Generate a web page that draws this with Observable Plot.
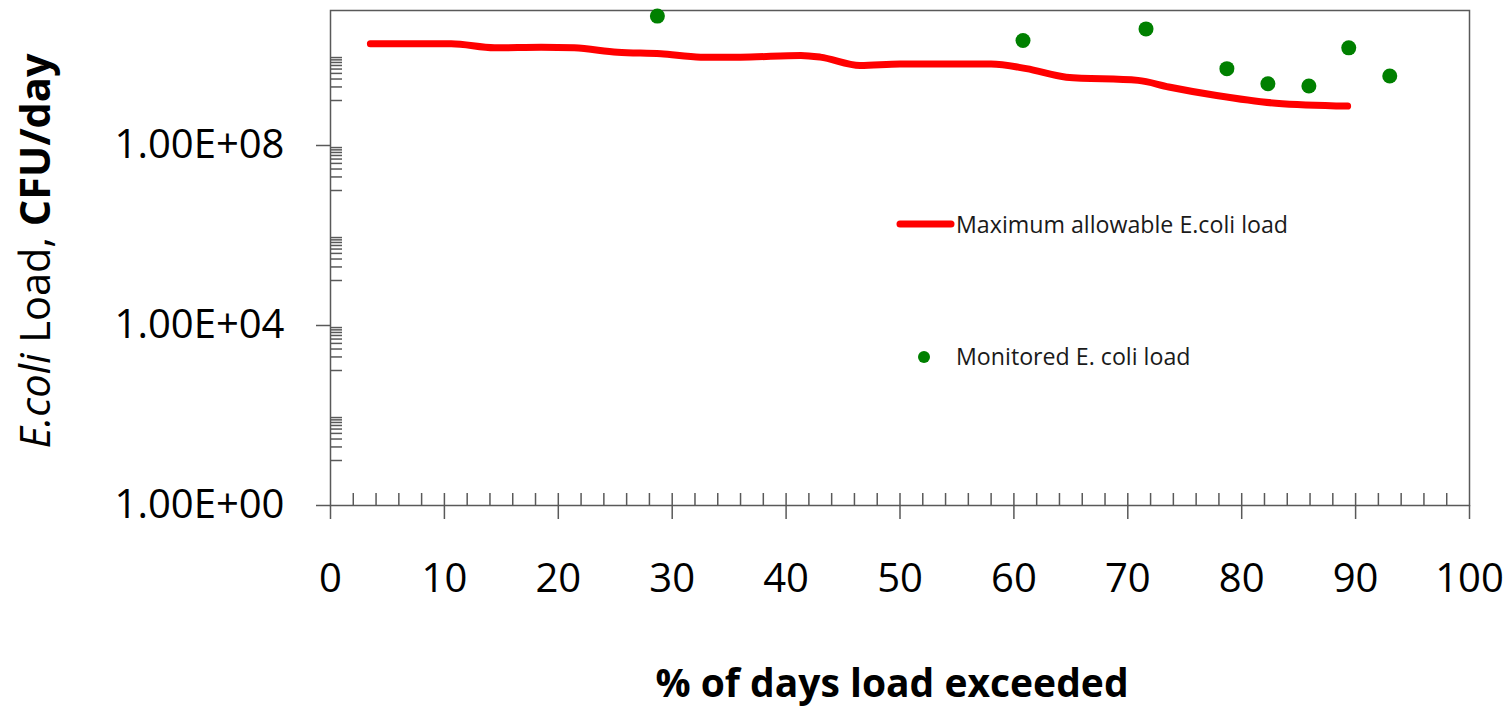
<!DOCTYPE html>
<html>
<head>
<meta charset="utf-8">
<script src="https://cdn.jsdelivr.net/npm/d3@7"></script>
<script src="https://cdn.jsdelivr.net/npm/@observablehq/plot@0.6"></script>
<style>
  html, body { margin: 0; padding: 0; background: #fff; }
  #chart { width: 1511px; height: 712px; overflow: hidden; }
  #chart svg { display: block; }
</style>
</head>
<body>
<div id="chart"></div>
<script>
// Load duration curve: maximum allowable E. coli load (CFU/day) by % of days exceeded
const allowPct  = [3.5, 10.6, 14.4, 18.5, 21.4, 25.2, 29.0, 32.5, 36.0, 41.3, 43.0, 46.5, 50.0, 58.0, 61.1, 64.6, 70.9, 73.6, 77.8, 83.0, 89.3];
const allowLoad = [1.82e10, 1.82e10, 1.48e10, 1.53e10, 1.48e10, 1.18e10, 1.09e10, 9.2e9, 9.2e9, 1.0e10, 9.2e9, 6.0e9, 6.5e9, 6.5e9, 5.1e9, 3.3e9, 2.8e9, 2.0e9, 1.29e9, 8.7e8, 7.5e8];

// Monitored E. coli loads
const monPct  = [28.7, 60.8, 71.6, 78.7, 82.3, 85.9, 89.4, 93.0];
const monLoad = [7.5e10, 2.15e10, 3.9e10, 5.1e9, 2.35e9, 2.1e9, 1.48e10, 3.5e9];

// Axis ticks
const xTicks = [0, 10, 20, 30, 40, 50, 60, 70, 80, 90, 100];
const xMinorStep = 2;
const yTicks = [1, 1e4, 1e8];
const yTickLabels = ["1.00E+00", "1.00E+04", "1.00E+08"];
const yMinorDecades = [1e1, 1e3, 1e5, 1e7, 1e9];
const yMinorMultiples = [1, 2, 3, 4, 5, 6, 7, 8, 9];

const allowable = allowPct.map((p, i) => ({pct: p, load: allowLoad[i]}));
const monitored = monPct.map((p, i) => ({pct: p, load: monLoad[i]}));
const xMinor = d3.range(xMinorStep, 100, xMinorStep);
const yMinor = yMinorDecades.flatMap(d => yMinorMultiples.map(k => k * d));

const W = 1511, H = 712;
const M = {top: 10, right: 42, bottom: 207, left: 330};
const plotW = W - M.left - M.right;
const plotH = H - M.top - M.bottom;
const axisColor = "#595959";
const font = "'Open Sans', sans-serif";

const svg = Plot.plot({
  width: W,
  height: H,
  marginTop: M.top,
  marginRight: M.right,
  marginBottom: M.bottom,
  marginLeft: M.left,
  style: {fontFamily: font, background: "#fff", color: "#000"},
  x: {domain: [0, 100]},
  y: {type: "log", domain: [1, 1e11]},
  marks: [
    // minor ticks pointing into the plot area
    Plot.ruleX(xMinor, {x: d => d, insetTop: plotH - 12, stroke: axisColor, strokeWidth: 1.5}),
    Plot.ruleY(yMinor, {y: d => d, insetRight: plotW - 12, stroke: axisColor, strokeWidth: 1.5}),
    Plot.frame({stroke: axisColor, strokeWidth: 1.5}),
    Plot.axisX(xTicks, {
      tickSize: 14, tickPadding: 44, fontSize: 40, stroke: axisColor, strokeWidth: 1.5,
      fill: "#000", label: null, tickFormat: d => String(d)
    }),
    Plot.axisY(yTicks, {
      tickSize: 14, tickPadding: 32, fontSize: 40, stroke: axisColor, strokeWidth: 1.5,
      fill: "#000", label: null, tickFormat: d => yTickLabels[yTicks.indexOf(d)]
    }),
    Plot.line(allowable, {
      x: "pct", y: "load", stroke: "#ff0000", strokeWidth: 7,
      strokeLinecap: "round", strokeLinejoin: "round", curve: "monotone-x"
    }),
    Plot.dot(monitored, {x: "pct", y: "load", r: 7.5, fill: "#008000", stroke: "none"})
  ]
});

const s = d3.select(svg);

// y-axis title with mixed styling
const yt = s.append("text")
  .attr("transform", "translate(34,251) rotate(-90)")
  .attr("text-anchor", "middle")
  .attr("dominant-baseline", "central")
  .attr("font-family", font)
  .attr("font-size", 41.5)
  .attr("fill", "#000");
yt.append("tspan").attr("font-style", "italic").text("E.coli");
yt.append("tspan").text(" Load, ");
yt.append("tspan").attr("font-weight", "bold").text("CFU/day");

// x-axis title
s.append("text")
  .attr("x", 892).attr("y", 697)
  .attr("text-anchor", "middle")
  .attr("font-family", font)
  .attr("font-size", 39)
  .attr("font-weight", "bold")
  .attr("fill", "#000")
  .text("% of days load exceeded");

// legend
const lg = s.append("g")
  .attr("font-family", font).attr("font-size", 23.2)
  .attr("fill", "#1a1a1a").attr("text-anchor", "start");
lg.append("line")
  .attr("x1", 900).attr("x2", 951).attr("y1", 224).attr("y2", 224)
  .attr("stroke", "#ff0000").attr("stroke-width", 7).attr("stroke-linecap", "round");
lg.append("text").attr("x", 956).attr("y", 224).attr("dominant-baseline", "central")
  .text("Maximum allowable E.coli load");
lg.append("circle").attr("cx", 924).attr("cy", 357).attr("r", 6).attr("fill", "#008000");
lg.append("text").attr("x", 956).attr("y", 356).attr("dominant-baseline", "central")
  .text("Monitored E. coli load");

document.getElementById("chart").appendChild(svg);
</script>
</body>
</html>
